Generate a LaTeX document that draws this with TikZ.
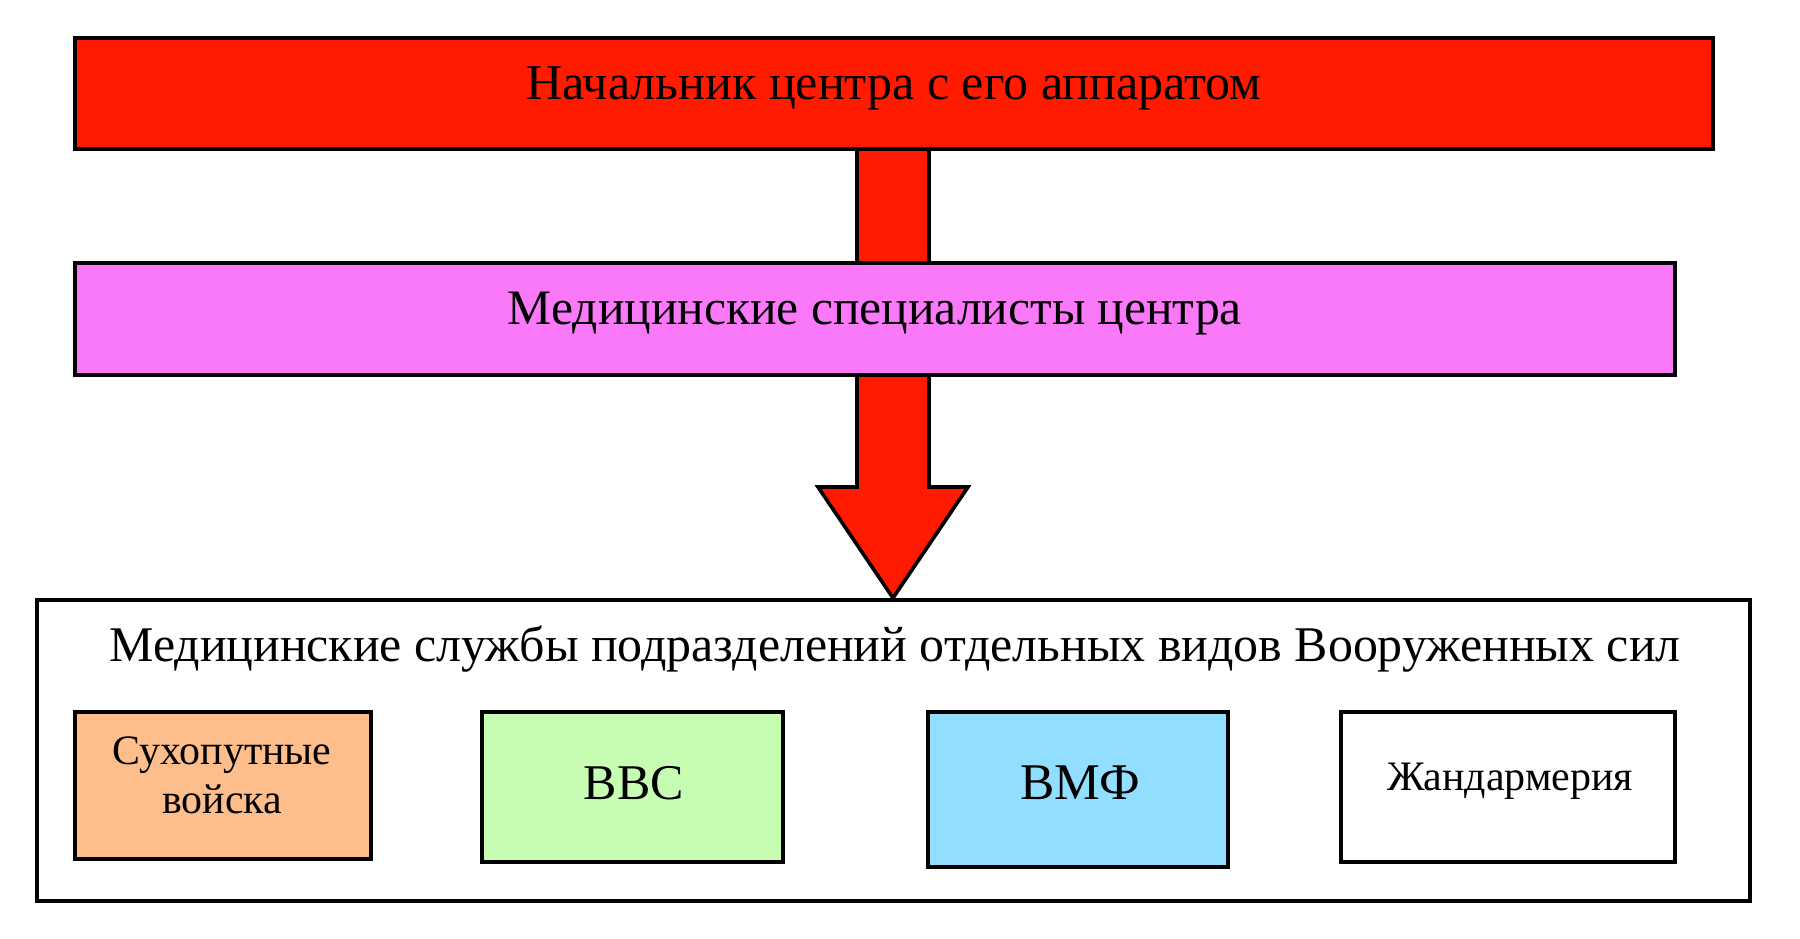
\documentclass[tikz,border=0pt]{standalone}
\usepackage{fontspec}
\setmainfont{Liberation Serif}
\usetikzlibrary{calc}
\definecolor{cred}{HTML}{FF1A00}
\definecolor{cpink}{HTML}{F979F9}
\definecolor{corange}{HTML}{FDBE8C}
\definecolor{cgreen}{HTML}{C7FDB2}
\definecolor{cblue}{HTML}{92DEFE}
\begin{document}
\begin{tikzpicture}[x=0.5pt,y=-0.5pt,
  boxstyle/.style={draw=black, line width=1.8pt, inner sep=0pt, outer sep=0pt, anchor=north west},
  txt/.style={inner sep=0pt, outer sep=0pt, anchor=center},
  arrowstyle/.style={draw=black, fill=cred, line width=1.8pt, line join=miter}]
\useasboundingbox (0,0) rectangle (1800,938);
% boxes (invisible first for anchors)
\node[boxstyle, fill=cred, minimum width=819pt, minimum height=55.5pt] (top) at (75,38) {};
\node[boxstyle, fill=cpink, minimum width=800pt, minimum height=56pt, draw=none] (mid) at (75,263) {};
\node[boxstyle, fill=white, minimum width=856.5pt, minimum height=150.5pt, draw=none] (cont) at (37,600) {};
% arrow
\coordinate (tip) at (893,598);
\draw[arrowstyle] ($(top.south)+(-37,0)$) -- ($(top.south)+(35,0)$) -- (929,487) -- (968,487) -- (tip) -- (818,487) -- (857,487) -- cycle;
% redraw boxes on top
\node[boxstyle, fill=cred, minimum width=819pt, minimum height=55.5pt] (topb) at (75,38) {};
\node[boxstyle, fill=cpink, minimum width=800pt, minimum height=56pt] (midb) at (75,263) {};
\node[boxstyle, fill=white, minimum width=856.5pt, minimum height=150.5pt] (contb) at (37,600) {};
\node[txt] (toptext) at (894,88) {\resizebox{367.5pt}{!}{Начальник центра с его аппаратом}};
\node[txt] (midtext) at (875,313.5) {\resizebox{367pt}{!}{Медицинские специалисты центра}};
\node[txt] (conttext) at (895,649) {\resizebox{785.5pt}{!}{Медицинские службы подразделений отдельных видов Вооруженных сил}};
% sub boxes
\node[boxstyle, fill=corange, minimum width=148pt, minimum height=73.5pt] (b1) at (75,712) {};
\node[boxstyle, fill=cgreen, minimum width=150.5pt, minimum height=75pt] (b2) at (482,712) {};
\node[boxstyle, fill=cblue, minimum width=150pt, minimum height=77.5pt] (b3) at (928,712) {};
\node[boxstyle, fill=white, minimum width=167pt, minimum height=75pt] (b4) at (1341,712) {};
\node[txt] (t1) at (222,779) {\resizebox{109.5pt}{!}{\begin{tabular}{@{}c@{}}Сухопутные\\[-0.5pt]войска\end{tabular}}};
\node[txt] (t2) at (634,783.5) {\resizebox{50pt}{!}{ВВС}};
\node[txt] (t3) at (1080,783) {\resizebox{60pt}{!}{ВМФ}};
\node[txt] (t4) at (1510,781) {\resizebox{123pt}{!}{Жандармерия}};
\end{tikzpicture}
\end{document}
